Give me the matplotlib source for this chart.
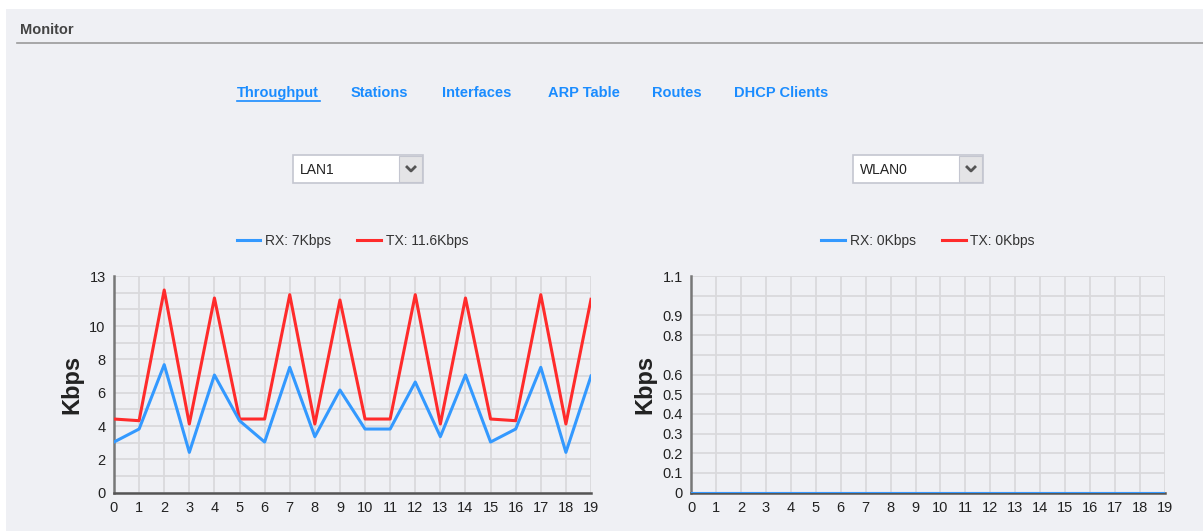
import matplotlib
matplotlib.use("Agg")
import matplotlib.pyplot as plt
from matplotlib.patches import Rectangle
from matplotlib.lines import Line2D

plt.rcParams['font.family'] = ['Liberation Sans', 'DejaVu Sans']

# data
x_points = list(range(20))
lan_rx = [3.04, 3.82, 7.68, 2.42, 7.06, 4.32, 3.04, 7.52, 3.36, 6.16,
          3.82, 3.82, 6.64, 3.36, 7.06, 3.04, 3.82, 7.52, 2.42, 7.0]
lan_tx = [4.42, 4.32, 12.16, 4.12, 11.68, 4.42, 4.42, 11.88, 4.12, 11.56,
          4.42, 4.42, 11.88, 4.12, 11.68, 4.42, 4.32, 11.88, 4.12, 11.6]
wlan_rx = [0] * 20
wlan_tx = [0] * 20

lan_legend = ["RX: 7Kbps", "TX: 11.6Kbps"]
wlan_legend = ["RX: 0Kbps", "TX: 0Kbps"]

lan_yticks = list(range(14))
lan_ylabels = ["0", "", "2", "", "4", "", "6", "", "8", "", "10", "", "", "13"]
wlan_yticks = [i / 10 for i in range(12)]
wlan_ylabels = ["0", "0.1", "0.2", "0.3", "0.4", "0.5", "0.6", "", "0.8", "0.9", "", "1.1"]

nav_items = ["Throughput", "Stations", "Interfaces", "ARP Table", "Routes", "DHCP Clients"]
nav_x = [237, 351, 442, 548, 652, 734]

W, H = 1203, 531
BG = "#eff0f4"
BLUE = "#3399ff"
RED = "#ff2b2b"
LINK = "#1a8cff"

def fx(px):
    return px / W

def fy(py):
    return 1 - py / H

fig = plt.figure(figsize=(W / 100, H / 100), dpi=100, facecolor="white")

# page panel
fig.patches.append(Rectangle((fx(6), 0), 1 - fx(6), fy(9), transform=fig.transFigure,
                             facecolor=BG, edgecolor="none", zorder=-10))
fig.text(fx(20), fy(30), "Monitor", fontsize=10.5, fontweight="bold", color="#444444",
         va="center", ha="left")
fig.add_artist(Line2D([fx(17), 1], [fy(43), fy(43)], transform=fig.transFigure,
                      color="#9a9a9a", lw=1.2))

# nav links
for name, px in zip(nav_items, nav_x):
    fig.text(fx(px), fy(93), name, fontsize=10.5, fontweight="bold", color=LINK,
             va="center", ha="left")
    if name == "Throughput":
        fig.add_artist(Line2D([fx(237), fx(320)], [fy(101), fy(101)],
                              transform=fig.transFigure, color=LINK, lw=1.2))

# dropdowns
def dropdown(x0, label):
    fig.patches.append(Rectangle((fx(x0), fy(183)), fx(130), 28 / H, transform=fig.transFigure,
                                 facecolor="white", edgecolor="#c4c6d0", lw=1.2, zorder=2))
    fig.patches.append(Rectangle((fx(x0 + 106), fy(182)), fx(23), 26 / H,
                                 transform=fig.transFigure, facecolor="#e4e4e6",
                                 edgecolor="#c4c6d0", lw=0.8, zorder=3))
    cx, cy = x0 + 118, 169
    fig.add_artist(Line2D([fx(cx - 4), fx(cx), fx(cx + 4)], [fy(cy - 2), fy(cy + 2), fy(cy - 2)],
                          transform=fig.transFigure, color="#555555", lw=2, zorder=4))
    fig.text(fx(x0 + 7), fy(170), label, fontsize=10, color="#222222", va="center", ha="left")

dropdown(293, "LAN1")
dropdown(853, "WLAN0")

def make_chart(rect, rx, tx, yticks, ylabels, ymax, legend_labels):
    ax = fig.add_axes(rect)
    ax.set_facecolor(BG)
    l_rx, = ax.plot(x_points, rx, color=BLUE, lw=2.2, zorder=4, label=legend_labels[0])
    l_tx, = ax.plot(x_points, tx, color=RED, lw=2.2, zorder=3, label=legend_labels[1])
    ax.set_xlim(0, 19)
    ax.set_ylim(0, ymax)
    ax.set_xticks(x_points)
    ax.set_yticks(yticks)
    ax.set_yticklabels(ylabels)
    ax.grid(True, color="#d9d9dc", lw=1.3)
    ax.set_axisbelow(True)
    for s in ["top", "right"]:
        ax.spines[s].set_visible(False)
    ax.spines["left"].set_color("#777777")
    ax.spines["bottom"].set_color("#555555")
    ax.spines["left"].set_linewidth(1.8)
    ax.spines["bottom"].set_linewidth(1.8)
    ax.tick_params(length=0, labelsize=10.5, labelcolor="#222222", pad=6)
    ax.set_ylabel("Kbps", fontsize=17, fontweight="bold", color="#222222", labelpad=4)
    ax.legend(handles=[l_rx, l_tx], loc="center", bbox_to_anchor=(0.5, 1.16), ncol=2,
              frameon=False, fontsize=10, handlelength=1.7, columnspacing=1.9,
              handletextpad=0.35, labelcolor="#333333")
    return ax

ax1 = make_chart([fx(114), fy(492.7), fx(477), 216.7 / H], lan_rx, lan_tx,
                 lan_yticks, lan_ylabels, 13, lan_legend)
ax2 = make_chart([fx(691), fy(492.7), fx(474), 216.7 / H], wlan_rx, wlan_tx,
                 wlan_yticks, wlan_ylabels, 1.1, wlan_legend)

fig.savefig("out.png", dpi=100, facecolor=fig.get_facecolor())
